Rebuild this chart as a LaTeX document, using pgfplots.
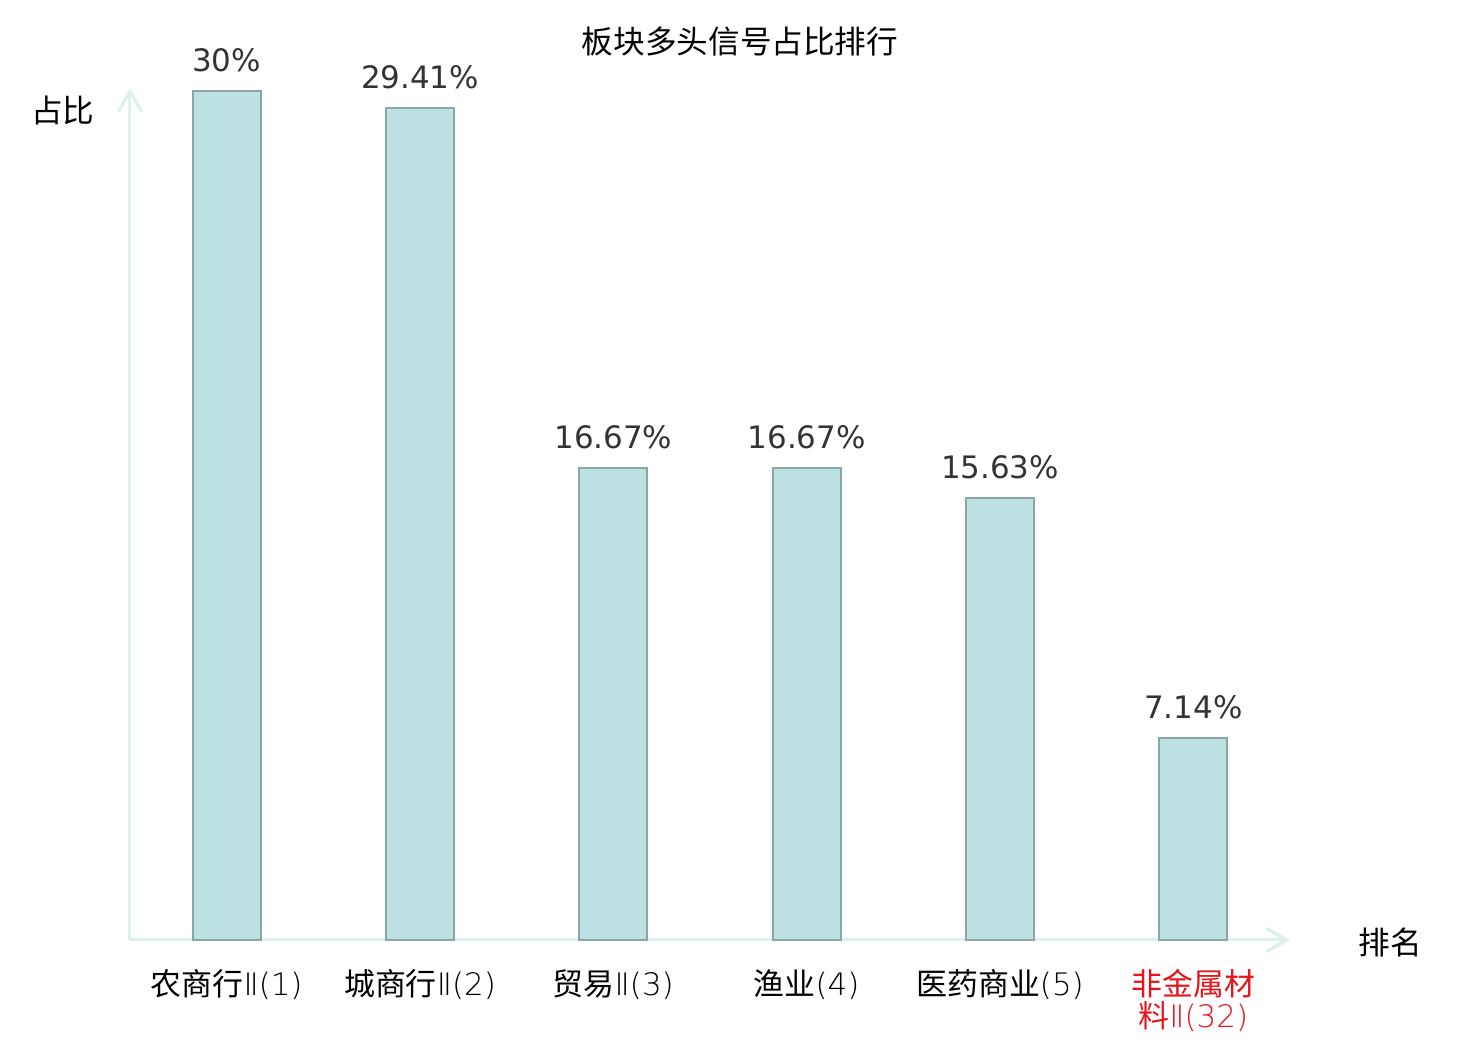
\documentclass[border=0pt]{standalone}
\usepackage{pgfplots}
\pgfplotsset{compat=1.18}
\usepackage{fontspec}
\setmainfont{DejaVu Sans}
\newfontfamily\cjk{Noto Sans CJK SC}
\newfontfamily\dejavu{DejaVu Sans}
\newfontfamily\light{DejaVu Sans ExtraLight}
\usetikzlibrary{arrows.meta}
\definecolor{barfill}{HTML}{BDE0E3}
\definecolor{baredge}{HTML}{8AA6A9}
\definecolor{axcol}{HTML}{DDF1EE}
\definecolor{lblcol}{HTML}{333333}
\definecolor{redlbl}{HTML}{E8141C}
\newcommand{\lt}[1]{{\light #1}}
\begin{document}
\begin{tikzpicture}
\path[use as bounding box] (-13mm,-10mm) rectangle (135mm,94mm);
\begin{axis}[
  at={(0,0)}, anchor=south west,
  scale only axis,
  width=116mm, height=85.2mm,
  xmin=-0.5, xmax=5.5, ymin=0, ymax=30.1,
  axis lines=left,
  axis line style={draw=axcol, line width=0.3mm, -{Straight Barb[length=2mm,width=2.3mm,line width=0.35mm]}},
  xtick=data,
  xticklabels={{农商行\lt{Ⅱ(1)}},{城商行\lt{Ⅱ(2)}},{贸易\lt{Ⅱ(3)}},{渔业\lt{(4)}},{医药商业\lt{(5)}},{\color{redlbl}非金属材\\\color{redlbl}料\lt{Ⅱ(32)}}},
  x tick label style={font=\cjk\fontsize{8.8}{9.1}\selectfont, align=center, anchor=north, yshift=-1.7mm},
  major tick length=0pt,
  ytick=\empty,
  clip=false,
  point meta=explicit symbolic,
  nodes near coords={\pgfplotspointmeta\%},
  every node near coord/.append style={font=\dejavu\fontsize{8.8}{9.6}\selectfont, text=lblcol, anchor=south, yshift=0.6mm},
]
\addplot[ybar, bar width=6.8mm, fill=barfill, draw=baredge, line width=0.2mm]
  coordinates {(0,30)[30] (1,29.41)[29.41] (2,16.67)[16.67] (3,16.67)[16.67] (4,15.63)[15.63] (5,7.14)[7.14]};
\end{axis}
\node[font=\cjk\fontsize{9}{10}\selectfont] at (61mm,89.8mm) {板块多头信号占比排行};
\node[font=\cjk\fontsize{9}{10}\selectfont] at (-6.7mm,83mm) {占比};
\node[font=\cjk\fontsize{9}{10}\selectfont] at (126mm,-0.2mm) {排名};
\end{tikzpicture}
\end{document}
